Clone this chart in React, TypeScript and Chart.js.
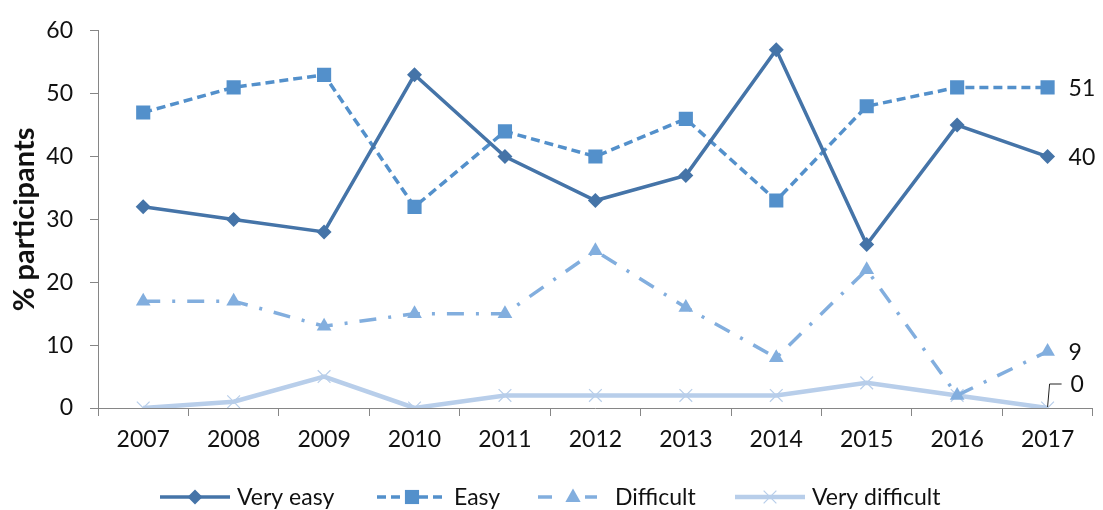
import React, { useEffect, useRef } from "react";
import { Chart, registerables } from "chart.js";

Chart.register(...registerables);

const years = ["2007", "2008", "2009", "2010", "2011", "2012", "2013", "2014", "2015", "2016", "2017"];
const veryEasy = [32, 30, 28, 53, 40, 33, 37, 57, 26, 45, 40];
const easy = [47, 51, 53, 32, 44, 40, 46, 33, 48, 51, 51];
const difficult = [17, 17, 13, 15, 15, 25, 16, 8, 22, 2, 9];
const veryDifficult = [0, 1, 5, 0, 2, 2, 2, 2, 4, 2, 0];
const seriesNames = ["Very easy", "Easy", "Difficult", "Very difficult"];
const yTicks = [0, 10, 20, 30, 40, 50, 60];

const FONT = "Lato, 'Liberation Sans', sans-serif";
const C1 = "#4574A8";
const C2 = "#5390CB";
const C3 = "#82AEDE";
const C4 = "#B8CEEA";

const legendLayout = [
  { x1: 160, x2: 230, mx: 195, tx: 237, dash: [] as number[] },
  { x1: 377, x2: 447, mx: 412, tx: 454, dash: [9, 5] },
  { x1: 538, x2: 597, mx: 573, tx: 615, dash: [14, 33, 12] },
  { x1: 735, x2: 805, mx: 770, tx: 812, dash: [] as number[] },
];
const LEGEND_Y = 497;

function drawMarker(ctx: CanvasRenderingContext2D, style: string, r: number, x: number, y: number) {
  ctx.beginPath();
  if (style === "rectRot") {
    ctx.moveTo(x, y - r);
    ctx.lineTo(x + r, y);
    ctx.lineTo(x, y + r);
    ctx.lineTo(x - r, y);
    ctx.closePath();
    ctx.fill();
  } else if (style === "rect") {
    const s = Math.SQRT1_2 * r;
    ctx.rect(x - s, y - s, 2 * s, 2 * s);
    ctx.fill();
  } else if (style === "triangle") {
    ctx.moveTo(x, y - r);
    ctx.lineTo(x + r * 0.9, y + r * 0.6);
    ctx.lineTo(x - r * 0.9, y + r * 0.6);
    ctx.closePath();
    ctx.fill();
  } else {
    const d = r * Math.SQRT1_2;
    ctx.moveTo(x - d, y - d);
    ctx.lineTo(x + d, y + d);
    ctx.moveTo(x + d, y - d);
    ctx.lineTo(x - d, y + d);
    ctx.stroke();
  }
}

const customPlugin = {
  id: "custom",
  afterDatasetsDraw(chart: any) {
    const ctx = chart.ctx as CanvasRenderingContext2D;
    ctx.save();
    // end-of-series labels
    chart.data.datasets.forEach((ds: any, i: number) => {
      const meta = chart.getDatasetMeta(i);
      const last = meta.data[meta.data.length - 1];
      const v = ds.data[ds.data.length - 1];
      ctx.font = `23px ${FONT}`;
      ctx.fillStyle = "#111";
      ctx.textAlign = "left";
      ctx.textBaseline = "middle";
      if (i === 3) {
        const ly = last.y - 24;
        ctx.strokeStyle = "#222";
        ctx.lineWidth = 1;
        ctx.setLineDash([]);
        ctx.beginPath();
        ctx.moveTo(last.x, last.y - 1);
        ctx.lineTo(last.x + 2, ly);
        ctx.lineTo(last.x + 14, ly);
        ctx.stroke();
        ctx.fillText(String(v), last.x + 23, ly + 1);
      } else {
        ctx.fillText(String(v), last.x + 21, last.y + 1);
      }
    });
    // legend
    chart.data.datasets.forEach((ds: any, i: number) => {
      const L = legendLayout[i];
      ctx.strokeStyle = ds.borderColor;
      ctx.lineWidth = ds.borderWidth;
      ctx.setLineDash(L.dash);
      ctx.beginPath();
      ctx.moveTo(L.x1, LEGEND_Y);
      ctx.lineTo(L.x2, LEGEND_Y);
      ctx.stroke();
      ctx.setLineDash([]);
      ctx.fillStyle = ds.pointBackgroundColor;
      ctx.strokeStyle = ds.pointBorderColor;
      ctx.lineWidth = ds.pointBorderWidth || 1;
      drawMarker(ctx, ds.pointStyle, ds.pointRadius, L.mx, LEGEND_Y);
      ctx.font = `23px ${FONT}`;
      ctx.fillStyle = "#111";
      ctx.textAlign = "left";
      ctx.textBaseline = "middle";
      ctx.fillText(seriesNames[i], L.tx, LEGEND_Y + 1);
    });
    ctx.restore();
  },
};

export default function App() {
  const ref = useRef<HTMLCanvasElement>(null);
  useEffect(() => {
    document.body.style.margin = "0";
    const datasets = [
      { label: seriesNames[0], data: veryEasy, borderColor: C1, backgroundColor: C1, borderWidth: 3.5, borderDash: [], pointStyle: "rectRot", pointRadius: 7.5, pointBackgroundColor: C1, pointBorderColor: C1, pointBorderWidth: 0 },
      { label: seriesNames[1], data: easy, borderColor: C2, backgroundColor: C2, borderWidth: 3.5, borderDash: [9, 5], pointStyle: "rect", pointRadius: 10, pointBackgroundColor: C2, pointBorderColor: C2, pointBorderWidth: 0 },
      { label: seriesNames[2], data: difficult, borderColor: C3, backgroundColor: C3, borderWidth: 3.5, borderDash: [17, 12, 3, 12], pointStyle: "triangle", pointRadius: 8.5, pointBackgroundColor: C3, pointBorderColor: C3, pointBorderWidth: 0 },
      { label: seriesNames[3], data: veryDifficult, borderColor: C4, backgroundColor: C4, borderWidth: 4.5, borderDash: [], pointStyle: "crossRot", pointRadius: 9, pointBackgroundColor: C4, pointBorderColor: C4, pointBorderWidth: 1.2 },
    ];
    const chart = new Chart(ref.current!, {
      type: "line",
      data: { labels: years, datasets: datasets as any },
      options: {
        animation: false,
        responsive: false,
        devicePixelRatio: 1,
        layout: { padding: { top: 27, right: 6, left: 0, bottom: 0 } },
        plugins: { legend: { display: false }, tooltip: { enabled: false } },
        elements: { line: { tension: 0 } },
        scales: {
          x: {
            offset: true,
            grid: { offset: true, drawOnChartArea: false, drawTicks: true, tickLength: 8, color: "#868686", lineWidth: 1 },
            border: { display: true, color: "#868686", width: 1 },
            ticks: { color: "#111", font: { family: FONT, size: 23 }, padding: 10, maxRotation: 0, autoSkip: false },
            afterFit: (s: any) => { s.height = 102; },
          },
          y: {
            min: 0,
            max: 60,
            afterBuildTicks: (s: any) => { s.ticks = yTicks.map((v) => ({ value: v })); },
            grid: { drawOnChartArea: false, drawTicks: true, tickLength: 8, color: "#868686", lineWidth: 1 },
            border: { display: true, color: "#868686", width: 1 },
            ticks: { color: "#111", font: { family: FONT, size: 23 }, padding: 17 },
            title: { display: true, text: "% participants", color: "#111", font: { family: FONT, size: 29, weight: "bold" }, padding: { top: 7, bottom: 0 } },
            afterFit: (s: any) => { s.width = 98; },
          },
        },
      },
      plugins: [customPlugin],
    } as any);
    return () => chart.destroy();
  }, []);
  return (
    <div style={{ position: "absolute", left: 0, top: 0, width: 1103, height: 510 }}>
      <canvas ref={ref} width={1103} height={510} style={{ width: 1103, height: 510 }} />
    </div>
  );
}
